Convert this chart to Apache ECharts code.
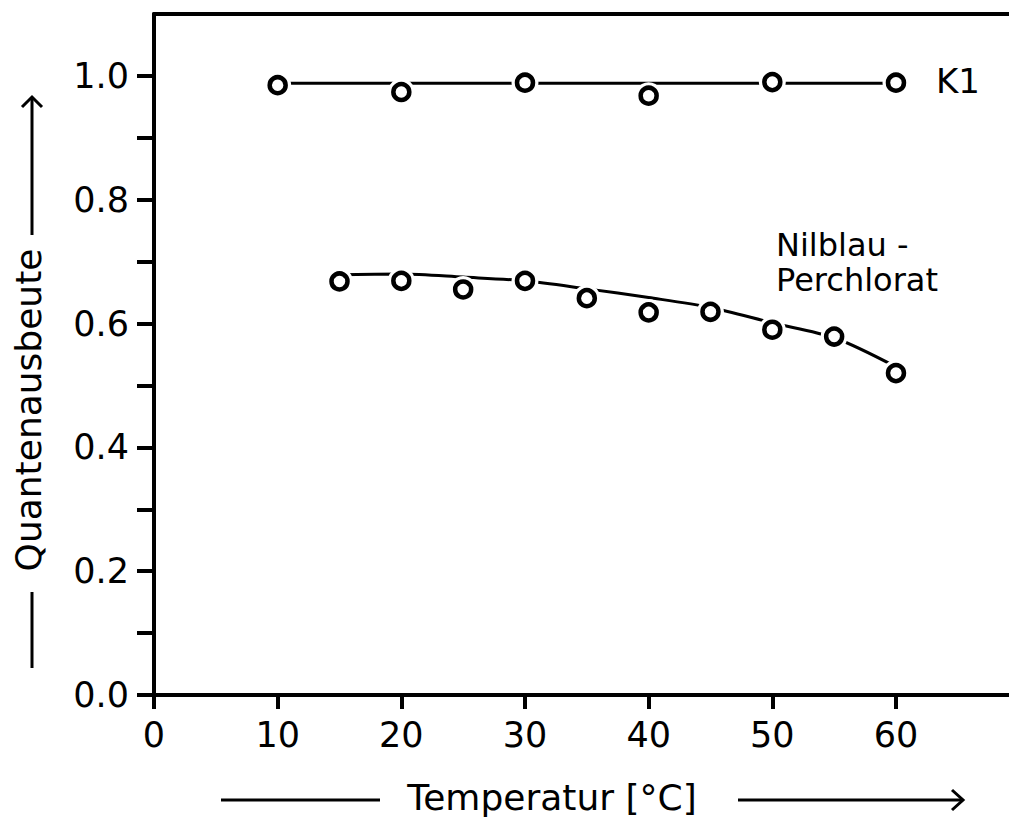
<!DOCTYPE html>
<html>
<head>
<meta charset="utf-8">
<script src="https://cdn.jsdelivr.net/npm/echarts@6/dist/echarts.min.js"></script>
<style>
html,body{margin:0;padding:0;background:#fff;}
#c{width:1009px;height:817px;}
</style>
</head>
<body>
<div id="c"></div>
<script>
// ---- data ----
const k1X = [10, 20, 30, 40, 50, 60];
const k1Y = [0.985, 0.974, 0.989, 0.968, 0.990, 0.989];
const k1FitX = [10, 60];
const k1FitY = [0.988, 0.988];

const nilX = [15, 20, 25, 30, 35, 40, 45, 50, 55, 60];
const nilY = [0.668, 0.669, 0.655, 0.669, 0.641, 0.618, 0.619, 0.590, 0.579, 0.520];
const nilFitX = [15, 20, 25, 30, 35, 40, 45, 50, 55, 60];
const nilFitY = [0.679, 0.680, 0.675, 0.669, 0.656, 0.642, 0.626, 0.601, 0.577, 0.530];

const xTicks = [0, 10, 20, 30, 40, 50, 60];
const yTicks = [0, 0.1, 0.2, 0.3, 0.4, 0.5, 0.6, 0.7, 0.8, 0.9, 1.0];
const yLabels = [0, 0.2, 0.4, 0.6, 0.8, 1.0];

const xTitle = 'Temperatur [°C]';
const yTitle = 'Quantenausbeute';
const k1Name = 'K1';
const nilName1 = 'Nilblau -';
const nilName2 = 'Perchlorat';

// ---- chart ----
const pair = (xs, ys) => xs.map((x, i) => [x, ys[i]]);
const FONT = 'DejaVu Sans';
const font = s => s + 'px "' + FONT + '"';
const chart = echarts.init(document.getElementById('c'), null, {renderer: 'svg'});

const markerSeries = (name, xs, ys) => ([
  {
    name: name + ' halo', type: 'scatter', data: pair(xs, ys), z: 3,
    symbol: 'circle', symbolSize: 27, silent: true,
    itemStyle: {color: '#fff', borderWidth: 0, opacity: 1}
  },
  {
    name: name, type: 'scatter', data: pair(xs, ys), z: 4,
    symbol: 'circle', symbolSize: 16,
    itemStyle: {color: '#fff', borderColor: '#000', borderWidth: 4.5, opacity: 1}
  }
]);

const X_MAX = 69.14;
const option = {
  animation: false,
  backgroundColor: '#fff',
  grid: {left: 154, right: 0, top: 14, bottom: 122, show: false},
  xAxis: [{
    type: 'value', min: 0, max: X_MAX,
    axisLine: {show: true, lineStyle: {color: '#000', width: 4}},
    axisTick: {show: true, length: 14, lineStyle: {color: '#000', width: 4}, customValues: xTicks},
    axisLabel: {color: '#000', fontFamily: FONT, fontSize: 35, margin: 22, customValues: xTicks},
    splitLine: {show: false}
  }, {
    type: 'value', min: 0, max: X_MAX, position: 'top',
    axisLine: {show: true, lineStyle: {color: '#000', width: 4}},
    axisTick: {show: false}, axisLabel: {show: false}, splitLine: {show: false}
  }],
  yAxis: {
    type: 'value', min: 0, max: 1.1,
    axisLine: {show: true, lineStyle: {color: '#000', width: 4}},
    axisTick: {show: true, length: 17, lineStyle: {color: '#000', width: 4}, customValues: yTicks},
    axisLabel: {color: '#000', fontFamily: FONT, fontSize: 35, margin: 25, customValues: yLabels,
      formatter: v => v.toFixed(1)},
    splitLine: {show: false}
  },
  series: [
    {
      name: 'K1 line', type: 'line', data: pair(k1FitX, k1FitY), z: 2,
      showSymbol: false, lineStyle: {color: '#000', width: 3}
    },
    {
      name: 'Nilblau line', type: 'line', data: pair(nilFitX, nilFitY), z: 2,
      showSymbol: false, smooth: 0.3, lineStyle: {color: '#000', width: 3}
    },
    ...markerSeries('K1', k1X, k1Y),
    ...markerSeries('Nilblau-Perchlorat', nilX, nilY)
  ],
  graphic: [
    // series labels
    {type: 'text', left: 936, top: 64, style: {text: k1Name, font: font(34), fill: '#000'}},
    {type: 'text', left: 776, top: 229, style: {text: nilName1, font: font(32), fill: '#000'}},
    {type: 'text', left: 776, top: 264, style: {text: nilName2, font: font(32), fill: '#000'}},
    // x axis title with arrow
    {type: 'text', x: 552, y: 797, style: {text: xTitle, font: font(36), fill: '#000', align: 'center', verticalAlign: 'middle'}},
    {type: 'line', shape: {x1: 221, y1: 800, x2: 380, y2: 800}, style: {stroke: '#000', lineWidth: 3}},
    {type: 'line', shape: {x1: 738, y1: 800, x2: 962, y2: 800}, style: {stroke: '#000', lineWidth: 3}},
    {type: 'polyline', shape: {points: [[952, 790], [963, 800], [952, 810]]}, style: {stroke: '#000', lineWidth: 3, fill: null}},
    // y axis title with arrow
    {type: 'text', x: 28, y: 410, rotation: Math.PI / 2, style: {text: yTitle, font: font(36), fill: '#000', align: 'center', verticalAlign: 'middle'}},
    {type: 'line', shape: {x1: 32, y1: 592, x2: 32, y2: 668}, style: {stroke: '#000', lineWidth: 3}},
    {type: 'line', shape: {x1: 32, y1: 98, x2: 32, y2: 235}, style: {stroke: '#000', lineWidth: 3}},
    {type: 'polyline', shape: {points: [[22, 107], [32, 97], [42, 107]]}, style: {stroke: '#000', lineWidth: 3, fill: null}}
  ]
};
chart.setOption(option);
</script>
</body>
</html>
